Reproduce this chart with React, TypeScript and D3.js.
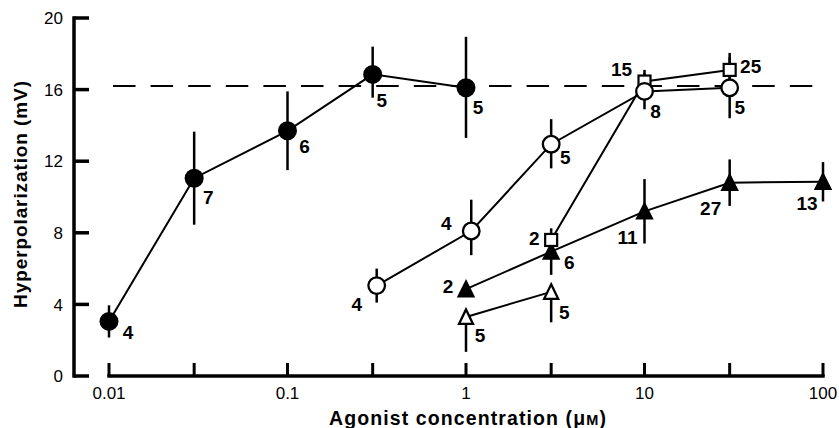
import React from "react";
import * as d3 from "d3";

// ---------- data ----------
const xTicks = [0.01, 0.03, 0.1, 0.3, 1, 3, 10, 30, 100];
const xLabelValues = [0.01, 0.1, 1, 10, 100];
const xLabelTexts = ["0.01", "0.1", "1", "10", "100"];
const yTicks = [0, 4, 8, 12, 16, 20];
const refLevel = 16.2;

// filled circles
const fcX = [0.01, 0.03, 0.1, 0.3, 1];
const fcY = [3.05, 11.05, 13.7, 16.85, 16.1];
const fcErrUp = [0.9, 2.6, 2.2, 1.55, 2.85];
const fcErrDn = [0.9, 2.6, 2.2, 1.3, 2.8];
const fcN = ["4", "7", "6", "5", "5"];

// open circles
const ocX = [0.316, 1.07, 3, 10, 30];
const ocY = [5.05, 8.1, 12.95, 15.9, 16.1];
const ocErrUp = [0.95, 1.75, 1.4, 1.0, 1.7];
const ocErrDn = [0.95, 1.35, 1.35, 1.0, 1.7];
const ocN = ["4", "4", "5", "8", "5"];

// open squares
const osX = [3, 10, 30];
const osY = [7.6, 16.45, 17.1];
const osErrUp = [0, 0.65, 0.95];
const osErrDn = [0, 0.65, 0.95];
const osN = ["2", "15", "25"];

// filled triangles
const ftX = [1, 3, 10, 30, 100];
const ftY = [4.85, 6.95, 9.2, 10.8, 10.85];
const ftErrUp = [0, 1.3, 1.8, 1.3, 1.1];
const ftErrDn = [0, 1.3, 1.8, 1.3, 1.1];
const ftN = ["2", "6", "11", "27", "13"];

// open triangles
const otX = [1, 3];
const otY = [3.3, 4.7];
const otErrUp = [0, 0];
const otErrDn = [1.95, 1.7];
const otN = ["5", "5"];

// ---------- layout (label offsets in px, relative to point) ----------
const fcLab = [[19, 11], [14, 19], [17, 15], [9, 26], [12, 19]];
const ocLab = [[-20, 19], [-25, -8], [14, 13], [11, 20], [10, 19]];
const osLab = [[-17, -2], [-23, -12], [21, -4]];
const ftLab = [[-18, -3], [18, 11], [-17, 26], [-19, 25], [-16, 21]];
const otLab = [[14, 18], [13, 20]];

type Series = {
  x: number[];
  y: number[];
  up: number[];
  dn: number[];
  n: string[];
  lab: number[][];
  marker: "fc" | "oc" | "os" | "ft" | "ot";
};

const series: Series[] = [
  { x: ftX, y: ftY, up: ftErrUp, dn: ftErrDn, n: ftN, lab: ftLab, marker: "ft" },
  { x: otX, y: otY, up: otErrUp, dn: otErrDn, n: otN, lab: otLab, marker: "ot" },
  { x: osX, y: osY, up: osErrUp, dn: osErrDn, n: osN, lab: osLab, marker: "os" },
  { x: ocX, y: ocY, up: ocErrUp, dn: ocErrDn, n: ocN, lab: ocLab, marker: "oc" },
  { x: fcX, y: fcY, up: fcErrUp, dn: fcErrDn, n: fcN, lab: fcLab, marker: "fc" },
];

const FONT = "'Liberation Sans', Arial, Helvetica, sans-serif";

export default function App() {
  const W = 839;
  const H = 428;
  const x = d3.scaleLog().domain([0.01, 100]).range([109, 823]);
  const y = d3.scaleLinear().domain([0, 20]).range([376, 18]);
  const line = d3
    .line<[number, number]>()
    .x((d) => x(d[0]))
    .y((d) => y(d[1]));

  const axisX = 74;
  const axisY = y(0);

  const marker = (m: string, cx: number, cy: number, key: string) => {
    switch (m) {
      case "fc":
        return <circle key={key} cx={cx} cy={cy} r={9.5} fill="#000" />;
      case "oc":
        return <circle key={key} cx={cx} cy={cy} r={8.3} fill="#fff" stroke="#000" strokeWidth={2.3} />;
      case "os":
        return <rect key={key} x={cx - 6} y={cy - 6} width={12} height={12} fill="#fff" stroke="#000" strokeWidth={2.2} />;
      case "ft":
        return (
          <path key={key} d={`M${cx},${cy - 8.5}L${cx + 8},${cy + 7.5}L${cx - 8},${cy + 7.5}Z`} fill="#000" stroke="#000" strokeWidth={1.5} strokeLinejoin="miter" />
        );
      case "ot":
        return (
          <path key={key} d={`M${cx},${cy - 7.5}L${cx + 7},${cy + 7}L${cx - 7},${cy + 7}Z`} fill="#fff" stroke="#000" strokeWidth={2.3} strokeLinejoin="miter" />
        );
    }
    return null;
  };

  return (
    <svg
      width={W}
      height={H}
      style={{ position: "absolute", left: 0, top: 0, background: "#fff" }}
      fontFamily={FONT}
    >
      <rect x={0} y={0} width={W} height={H} fill="#fff" />

      {/* reference dashed line */}
      <line
        x1={113}
        x2={815}
        y1={y(refLevel)}
        y2={y(refLevel)}
        stroke="#000"
        strokeWidth={2.2}
        strokeDasharray="22.5 15.1"
      />

      {/* y axis */}
      <line x1={axisX} x2={axisX} y1={y(20)} y2={y(0)} stroke="#000" strokeWidth={3.5} strokeLinecap="square" />
      {yTicks.map((t) => (
        <g key={"yt" + t}>
          <line x1={axisX} x2={axisX + 15} y1={y(t)} y2={y(t)} stroke="#000" strokeWidth={3.5} />
          <text x={63} y={y(t)} dy="0.36em" textAnchor="end" fontSize={17}>
            {t}
          </text>
        </g>
      ))}

      {/* x axis */}
      <line x1={x(0.01)} x2={x(100)} y1={axisY} y2={axisY} stroke="#000" strokeWidth={3.5} strokeLinecap="square" />
      {xTicks.map((t) => (
        <line key={"xt" + t} x1={x(t)} x2={x(t)} y1={axisY} y2={axisY - 13} stroke="#000" strokeWidth={3} />
      ))}
      {xLabelValues.map((t, i) => (
        <text key={"xl" + t} x={x(t)} y={399} textAnchor="middle" fontSize={17}>
          {xLabelTexts[i]}
        </text>
      ))}

      {/* axis titles */}
      <text x={468} y={425} textAnchor="middle" fontSize={19.5} fontWeight="bold" letterSpacing={1.1}>
        Agonist concentration (μ
        <tspan fontSize={14.5}>M</tspan>)
      </text>
      <text
        transform={`translate(27,194) rotate(-90)`}
        textAnchor="middle"
        fontSize={19}
        fontWeight="bold"
        letterSpacing={0.9}
      >
        Hyperpolarization (mV)
      </text>

      {/* connecting lines */}
      {series.map((s, si) => (
        <path
          key={"ln" + si}
          d={line(s.x.map((v, i) => [v, s.y[i]] as [number, number])) || ""}
          fill="none"
          stroke="#000"
          strokeWidth={2}
        />
      ))}

      {/* error bars */}
      {series.map((s, si) =>
        s.x.map((v, i) =>
          s.up[i] > 0 || s.dn[i] > 0 ? (
            <line
              key={`eb${si}-${i}`}
              x1={x(v)}
              x2={x(v)}
              y1={y(s.y[i] + s.up[i])}
              y2={y(s.y[i] - s.dn[i])}
              stroke="#000"
              strokeWidth={2.5}
            />
          ) : null
        )
      )}

      {/* markers */}
      {series.map((s, si) => s.x.map((v, i) => marker(s.marker, x(v), y(s.y[i]), `mk${si}-${i}`)))}

      {/* n labels */}
      {series.map((s, si) =>
        s.x.map((v, i) => (
          <text
            key={`lb${si}-${i}`}
            x={x(v) + s.lab[i][0]}
            y={y(s.y[i]) + s.lab[i][1]}
            dy="0.36em"
            textAnchor="middle"
            fontSize={19}
            fontWeight="bold"
          >
            {s.n[i]}
          </text>
        ))
      )}
    </svg>
  );
}
